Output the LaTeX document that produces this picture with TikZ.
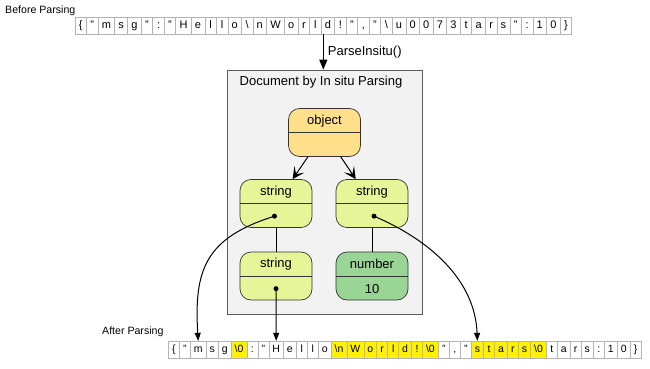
\documentclass[tikz,border=0pt]{standalone}
\usepackage{fontspec}
\setmainfont{Liberation Sans}
\usetikzlibrary{arrows.meta,calc}
\definecolor{objc}{HTML}{FEE08B}
\definecolor{strc}{HTML}{E6F598}
\definecolor{numc}{HTML}{99D594}
\definecolor{clc}{HTML}{F2F2F2}
\definecolor{cellb}{HTML}{B4B4B4}
\definecolor{bordc}{HTML}{333333}
\newcommand\rcell[4]{\node[#3,anchor=west] (#1) at (#2.east) {#4};}
\begin{document}
\begin{tikzpicture}[x=1pt,y=-1pt,
  cellbase/.style={draw=cellb, line width=0.6pt, inner ysep=0pt, outer sep=0pt, fill=white, text height=8pt, text depth=2.3pt},
  cellT/.style={cellbase, inner xsep=3.75pt, minimum width=11.5pt, minimum height=17pt, font=\fontsize{11}{13}\selectfont},
  cellB/.style={cellbase, inner xsep=3.5pt, minimum width=11pt, minimum height=17.5pt, font=\fontsize{10.5}{12}\selectfont},
  hl/.style={fill=yellow},
  mrec/.style={draw=bordc, line width=0.7pt, rounded corners=11pt, minimum width=72pt, minimum height=48pt, inner sep=0pt},
  lbl/.style={font=\fontsize{13}{15}\selectfont, inner sep=1pt},
  small/.style={font=\fontsize{10.6}{12}\selectfont, inner sep=0pt},
  dot/.style={circle, fill=black, inner sep=0pt, minimum size=5pt},
  edge/.style={line width=1pt},
  treearrow/.style={edge, -{Stealth[length=12pt,width=12pt,inset=6pt]}},
  ptr/.style={edge, -{Triangle[length=8pt,width=6pt]}},
  toparrow/.style={line width=1.2pt, -{Triangle[length=10pt,width=8pt]}}
]
\useasboundingbox (0,0) rectangle (650,369);

% labels
\node[small, anchor=west] (bp) at (5,10.5) {Before Parsing};
\node[small, anchor=west] (ap) at (102,331.5) {After Parsing};

% top row
\node[cellT, anchor=west] (a1) at (75,25.5) {\{};
\rcell{a2}{a1}{cellT}{"}
\rcell{a3}{a2}{cellT}{m}
\rcell{a4}{a3}{cellT}{s}
\rcell{a5}{a4}{cellT}{g}
\rcell{a6}{a5}{cellT}{"}
\rcell{a7}{a6}{cellT}{:}
\rcell{a8}{a7}{cellT}{"}
\rcell{a9}{a8}{cellT}{H}
\rcell{a10}{a9}{cellT}{e}
\rcell{a11}{a10}{cellT}{l}
\rcell{a12}{a11}{cellT}{l}
\rcell{a13}{a12}{cellT}{o}
\rcell{a14}{a13}{cellT}{\textbackslash}
\rcell{a15}{a14}{cellT}{n}
\rcell{a16}{a15}{cellT}{W}
\rcell{a17}{a16}{cellT}{o}
\rcell{a18}{a17}{cellT}{r}
\rcell{a19}{a18}{cellT}{l}
\rcell{a20}{a19}{cellT}{d}
\rcell{a21}{a20}{cellT}{!}
\rcell{a22}{a21}{cellT}{"}
\rcell{a23}{a22}{cellT}{,}
\rcell{a24}{a23}{cellT}{"}
\rcell{a25}{a24}{cellT}{\textbackslash}
\rcell{a26}{a25}{cellT}{u}
\rcell{a27}{a26}{cellT}{0}
\rcell{a28}{a27}{cellT}{0}
\rcell{a29}{a28}{cellT}{7}
\rcell{a30}{a29}{cellT}{3}
\rcell{a31}{a30}{cellT}{t}
\rcell{a32}{a31}{cellT}{a}
\rcell{a33}{a32}{cellT}{r}
\rcell{a34}{a33}{cellT}{s}
\rcell{a35}{a34}{cellT}{"}
\rcell{a36}{a35}{cellT}{:}
\rcell{a37}{a36}{cellT}{1}
\rcell{a38}{a37}{cellT}{0}
\rcell{a39}{a38}{cellT}{\}}

% bottom row
\node[cellB, anchor=west] (b1) at (168.3,349.6) {\{};
\rcell{b2}{b1}{cellB}{"}
\rcell{b3}{b2}{cellB}{m}
\rcell{b4}{b3}{cellB}{s}
\rcell{b5}{b4}{cellB}{g}
\rcell{b6}{b5}{cellB,hl}{\textbackslash0}
\rcell{b7}{b6}{cellB}{:}
\rcell{b8}{b7}{cellB}{"}
\rcell{b9}{b8}{cellB}{H}
\rcell{b10}{b9}{cellB}{e}
\rcell{b11}{b10}{cellB}{l}
\rcell{b12}{b11}{cellB}{l}
\rcell{b13}{b12}{cellB}{o}
\rcell{b14}{b13}{cellB,hl}{\textbackslash n}
\rcell{b15}{b14}{cellB,hl}{W}
\rcell{b16}{b15}{cellB,hl}{o}
\rcell{b17}{b16}{cellB,hl}{r}
\rcell{b18}{b17}{cellB,hl}{l}
\rcell{b19}{b18}{cellB,hl}{d}
\rcell{b20}{b19}{cellB,hl}{!}
\rcell{b21}{b20}{cellB,hl}{\textbackslash0}
\rcell{b22}{b21}{cellB}{"}
\rcell{b23}{b22}{cellB}{,}
\rcell{b24}{b23}{cellB}{"}
\rcell{b25}{b24}{cellB,hl}{s}
\rcell{b26}{b25}{cellB,hl}{t}
\rcell{b27}{b26}{cellB,hl}{a}
\rcell{b28}{b27}{cellB,hl}{r}
\rcell{b29}{b28}{cellB,hl}{s}
\rcell{b30}{b29}{cellB,hl}{\textbackslash0}
\rcell{b31}{b30}{cellB}{t}
\rcell{b32}{b31}{cellB}{a}
\rcell{b33}{b32}{cellB}{r}
\rcell{b34}{b33}{cellB}{s}
\rcell{b35}{b34}{cellB}{:}
\rcell{b36}{b35}{cellB}{1}
\rcell{b37}{b36}{cellB}{0}
\rcell{b38}{b37}{cellB}{\}}

% cluster
\node[draw=bordc!80, line width=0.7pt, fill=clc, minimum width=195pt, minimum height=244pt, inner sep=0pt] (cl) at (324.5,192) {};
\node[lbl] (cltitle) at (321,82) {Document by In situ Parsing};

% top arrow
\coordinate (tb) at ($(a1.south west)!0.5!(a39.south east)$);
\draw[toparrow] (tb) -- (tb |- cl.north) node[midway, right, lbl, inner sep=4pt] (pl) {ParseInsitu()};

% tree nodes
\node[mrec, fill=objc] (obj) at (324.5,132.5) {};
\node[mrec, fill=strc] (sL) at (276,203.5) {};
\node[mrec, fill=strc] (sR) at (372,203.5) {};
\node[mrec, fill=strc] (sB) at (276,276) {};
\node[mrec, fill=numc] (num) at (372,276) {};
\foreach \n in {obj,sL,sR,sB,num}{\draw[draw=bordc, line width=0.7pt] (\n.west) -- (\n.east);}

\node[lbl] (objt) at ($(obj.north)!0.26!(obj.south)$) {object};
\node[lbl] (sLt) at ($(sL.north)!0.26!(sL.south)$) {string};
\node[lbl] (sRt) at ($(sR.north)!0.26!(sR.south)$) {string};
\node[lbl] (sBt) at ($(sB.north)!0.26!(sB.south)$) {string};
\node[lbl] (numt) at ($(num.north)!0.26!(num.south)$) {number};
\node[lbl] (numv) at ($(num.north)!0.76!(num.south)$) {10};

\node[dot] (sLd) at ($(sL.north)!0.76!(sL.south)+(-1.5,0)$) {};
\node[dot] (sRd) at ($(sR.north)!0.76!(sR.south)+(2,0)$) {};
\node[dot] (sBd) at ($(sB.north)!0.76!(sB.south)$) {};

% edges
\draw[treearrow] (obj) -- (sL);
\draw[treearrow] (obj) -- (sR);
\draw[edge] (sL.south) -- (sB.north);
\draw[edge] (sR.south) -- (num.north);

\draw[ptr] (sLd.center) .. controls (205,238) and (194,270) .. (b3.north);
\draw[ptr] (sBd.center) -- (b9.north);
\draw[ptr] (sRd.center) .. controls (430,240) and (475,280) .. (b25.north);
\end{tikzpicture}
\end{document}
